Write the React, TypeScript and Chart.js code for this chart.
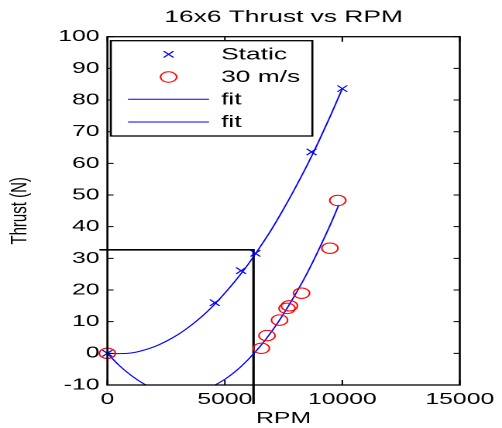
import React, { useEffect, useRef } from 'react';
import { Chart, registerables } from 'chart.js';

Chart.register(...registerables);

// ---- data ----
const staticRpm = [0, 4570, 5690, 6300, 8690, 10000];
const staticThrust = [0, 16.0, 26.1, 31.6, 63.6, 83.6];

const windRpm = [0, 6555, 6794, 7328, 7647, 7748, 8265, 9471, 9807];
const windThrust = [0, 1.6, 5.6, 10.5, 14.2, 15.0, 19.0, 33.2, 48.3];

const fitStaticRpm = [0, 500, 1000, 1500, 2000, 2500, 3000, 3500, 4000, 4500, 5000, 5500, 6000, 6500, 7000, 7500, 8000, 8500, 9000, 9500, 10000];
const fitStaticThrust = [0, -0.1, 0.1, 0.9, 2.1, 3.8, 5.9, 8.5, 11.5, 15.0, 19.0, 23.4, 28.2, 33.6, 39.3, 45.6, 52.3, 59.4, 67.0, 75.1, 83.6];

const fitWindRpm = [0, 500, 1000, 1500, 2000, 2500, 3000, 3500, 4000, 4500, 5000, 5500, 6000, 6500, 7000, 7500, 8000, 8500, 9000, 9500, 9850];
const fitWindThrust = [0, -3.8, -6.9, -9.4, -11.2, -12.3, -12.8, -12.6, -11.8, -10.3, -8.2, -5.4, -1.9, 2.2, 7.0, 12.5, 18.6, 25.3, 32.8, 40.8, 46.9];

const boxRpm = [-340, 6220, 6220];
const boxThrust = [32.7, 32.7, -16];

const seriesLabels = ['Static', '30 m/s', 'fit', 'fit'];
const titleText = '16x6 Thrust vs RPM';
const xTitle = 'RPM';
const yTitle = 'Thrust (N)';
const xTicks = [0, 5000, 10000, 15000];

const FONT = '"Liberation Sans", Arial, Helvetica, sans-serif';
const BLUE = '#0000ff';
const RED = '#ff0000';

const pts = (xs: number[], ys: number[]) => xs.map((x, i) => ({ x, y: ys[i] }));

const CANVAS_W = 324; // internal width, stretched to 502 css px
const CANVAS_H = 428;

function drawCross(ctx: CanvasRenderingContext2D, x: number, y: number, r: number) {
  const d = r * Math.SQRT1_2;
  ctx.beginPath();
  ctx.moveTo(x - d, y - d);
  ctx.lineTo(x + d, y + d);
  ctx.moveTo(x - d, y + d);
  ctx.lineTo(x + d, y - d);
  ctx.stroke();
}

const framePlugin = {
  id: 'matlabFrame',
  afterDraw(chart: any) {
    const { ctx, chartArea: a, scales } = chart;
    const xs = scales.x;
    const ys = scales.y;
    ctx.save();
    ctx.strokeStyle = '#000';
    ctx.lineWidth = 1.3;
    ctx.strokeRect(a.left, a.top, a.right - a.left, a.bottom - a.top);
    ctx.lineWidth = 1;
    ctx.beginPath();
    xs.ticks.forEach((t: any) => {
      const px = xs.getPixelForValue(t.value);
      ctx.moveTo(px, a.bottom);
      ctx.lineTo(px, a.bottom - 5);
      ctx.moveTo(px, a.top);
      ctx.lineTo(px, a.top + 5);
    });
    ys.ticks.forEach((t: any) => {
      const py = ys.getPixelForValue(t.value);
      ctx.moveTo(a.left, py);
      ctx.lineTo(a.left + 4, py);
      ctx.moveTo(a.right, py);
      ctx.lineTo(a.right - 4, py);
    });
    ctx.stroke();

    // legend box (MATLAB style)
    const bx = a.left + 2.2;
    const by = a.top + 4;
    const bw = 130.1;
    const bh = 95.3;
    ctx.fillStyle = '#fff';
    ctx.fillRect(bx, by, bw, bh);
    ctx.strokeStyle = '#000';
    ctx.lineWidth = 1.3;
    ctx.strokeRect(bx, by, bw, bh);
    const rowY = [13.6, 36.3, 58.6, 81.3];
    const ds = chart.data.datasets;
    ctx.font = '17px ' + FONT;
    ctx.textBaseline = 'middle';
    ctx.textAlign = 'left';
    for (let i = 0; i < 4; i++) {
      const d = ds[i];
      const y = by + rowY[i];
      ctx.strokeStyle = d.borderColor;
      ctx.lineWidth = 1;
      if (d.pointStyle === 'crossRot' && !d.showLine) {
        drawCross(ctx, bx + 37.3, y, d.pointRadius);
      } else if (d.pointStyle === 'circle' && !d.showLine) {
        ctx.beginPath();
        ctx.arc(bx + 37.3, y, d.pointRadius, 0, Math.PI * 2);
        ctx.stroke();
      } else {
        ctx.beginPath();
        ctx.moveTo(bx + 11.1, y);
        ctx.lineTo(bx + 63.4, y);
        ctx.stroke();
      }
      ctx.fillStyle = '#000';
      ctx.fillText(d.label, bx + 71.2, y + 0.5);
    }
    ctx.restore();
  },
};

export default function App() {
  const ref = useRef<HTMLCanvasElement>(null);

  useEffect(() => {
    if (!ref.current) return;
    const chart = new Chart(ref.current, {
      type: 'scatter',
      data: {
        datasets: [
          {
            label: seriesLabels[0],
            data: pts(staticRpm, staticThrust),
            pointStyle: 'crossRot',
            pointRadius: 4.5,
            borderColor: BLUE,
            backgroundColor: BLUE,
            borderWidth: 1,
            showLine: false,
            clip: false,
          } as any,
          {
            label: seriesLabels[1],
            data: pts(windRpm, windThrust),
            pointStyle: 'circle',
            pointRadius: 5.2,
            borderColor: RED,
            backgroundColor: 'rgba(0,0,0,0)',
            borderWidth: 1,
            showLine: false,
            clip: false,
          } as any,
          {
            label: seriesLabels[2],
            data: pts(fitStaticRpm, fitStaticThrust),
            showLine: true,
            pointRadius: 0,
            borderColor: BLUE,
            borderWidth: 1,
            cubicInterpolationMode: 'monotone',
          } as any,
          {
            label: seriesLabels[3],
            data: pts(fitWindRpm, fitWindThrust),
            showLine: true,
            pointRadius: 0,
            borderColor: BLUE,
            borderWidth: 1,
            cubicInterpolationMode: 'monotone',
          } as any,
          {
            label: '',
            data: pts(boxRpm, boxThrust),
            showLine: true,
            pointRadius: 0,
            borderColor: '#000',
            borderWidth: 1.6,
            clip: false,
          } as any,
        ],
      },
      options: {
        animation: false,
        responsive: false,
        devicePixelRatio: 2,
        events: [],
        layout: { padding: { left: 0, right: 24.3, top: 0, bottom: 0 } },
        plugins: {
          legend: { display: false },
          tooltip: { enabled: false },
          title: {
            display: true,
            text: titleText,
            fullSize: false,
            color: '#000',
            font: { family: FONT, size: 17, weight: 'normal' },
            padding: { top: 7.3, bottom: 9 },
          },
        },
        scales: {
          x: {
            type: 'linear',
            min: 0,
            max: 15000,
            afterBuildTicks: (s: any) => {
              s.ticks = xTicks.map((v) => ({ value: v }));
            },
            ticks: {
              color: '#000',
              font: { family: FONT, size: 16 },
              padding: 5,
              maxRotation: 0,
              autoSkip: false,
              callback: (v: any) => String(v),
            },
            grid: { display: false, drawTicks: false },
            border: { display: false },
            title: {
              display: true,
              text: xTitle,
              color: '#000',
              font: { family: FONT, size: 16 },
              padding: { top: 0, bottom: 0 },
            },
            afterFit: (s: any) => {
              s.height = 43;
            },
          },
          y: {
            type: 'linear',
            min: -10,
            max: 100,
            ticks: {
              stepSize: 10,
              color: '#000',
              font: { family: FONT, size: 16 },
              padding: 5,
              callback: (v: any) => String(v),
            },
            grid: { display: false, drawTicks: false },
            border: { display: false },
            title: {
              display: true,
              text: yTitle,
              color: '#000',
              font: { family: FONT, size: 15 },
              padding: { top: 3.8, bottom: 0 },
            },
            afterFit: (s: any) => {
              s.width = 69.3;
            },
          },
        },
      } as any,
      plugins: [framePlugin],
    });
    return () => chart.destroy();
  }, []);

  return (
    <div style={{ position: 'absolute', left: 0, top: 0, width: 502, height: 428, background: '#fff' }}>
      <canvas
        ref={ref}
        width={CANVAS_W}
        height={CANVAS_H}
        style={{ width: '502px', height: '428px', display: 'block' }}
      />
    </div>
  );
}
